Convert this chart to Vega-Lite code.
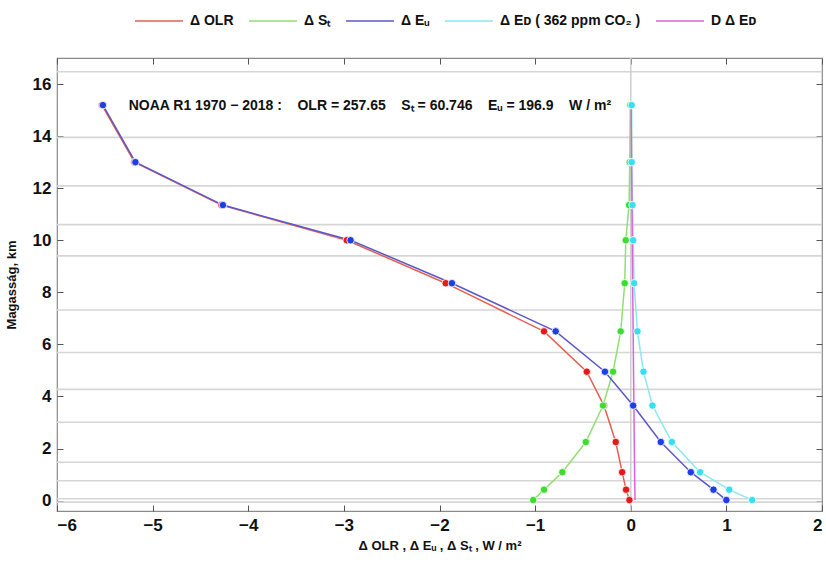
{
  "$schema": "https://vega.github.io/schema/vega-lite/v6.json",
  "width": 765,
  "height": 453,
  "autosize": {"type": "none"},
  "padding": {"left": 57, "top": 58, "right": 4, "bottom": 54},
  "config": {
    "view": {"stroke": "#8a8a8a", "strokeWidth": 1.2},
    "font": "Liberation Sans",
    "axis": {"domain": false, "grid": false, "tickColor": "#555555", "tickWidth": 1, "labelColor": "#111111", "titleColor": "#111111", "labelFontWeight": "bold", "titleFontWeight": "bold", "labelFont": "Liberation Sans", "titleFont": "Liberation Sans"}
  },
  "datasets": {
    "grid": [
      {"g": 16.47}, {"g": 13.95}, {"g": 12.09}, {"g": 10.6}, {"g": 9.4}, {"g": 7.32},
      {"g": 5.69}, {"g": 4.27}, {"g": 3.01}, {"g": 1.47}, {"g": 0.76}, {"g": 0.07}, {"g": -0.06}
    ],
    "zero": [{"z": 0}],
    "note": [{"x": -5.25, "y": 15.15, "t": "NOAA R1 1970 − 2018 :\u00a0\u00a0\u00a0 OLR = 257.65\u00a0\u00a0\u00a0 Sₜ = 60.746\u00a0\u00a0\u00a0 Eᵤ = 196.9\u00a0\u00a0\u00a0 W / m²"}],
    "pts": [
      {"s": "Δ OLR", "h": 15.19, "v": -5.53},
      {"s": "Δ OLR", "h": 13.0, "v": -5.19},
      {"s": "Δ OLR", "h": 11.35, "v": -4.28},
      {"s": "Δ OLR", "h": 10.0, "v": -2.97},
      {"s": "Δ OLR", "h": 8.35, "v": -1.935},
      {"s": "Δ OLR", "h": 6.5, "v": -0.907},
      {"s": "Δ OLR", "h": 4.95, "v": -0.46},
      {"s": "Δ OLR", "h": 3.65, "v": -0.28},
      {"s": "Δ OLR", "h": 2.25, "v": -0.157},
      {"s": "Δ OLR", "h": 1.09, "v": -0.09},
      {"s": "Δ OLR", "h": 0.42, "v": -0.049},
      {"s": "Δ OLR", "h": 0.02, "v": -0.014},
      {"s": "Δ Sₜ", "h": 15.19, "v": -0.005},
      {"s": "Δ Sₜ", "h": 13.0, "v": -0.01},
      {"s": "Δ Sₜ", "h": 11.35, "v": -0.018},
      {"s": "Δ Sₜ", "h": 10.0, "v": -0.052},
      {"s": "Δ Sₜ", "h": 8.35, "v": -0.063},
      {"s": "Δ Sₜ", "h": 6.5, "v": -0.105},
      {"s": "Δ Sₜ", "h": 4.95, "v": -0.185},
      {"s": "Δ Sₜ", "h": 3.65, "v": -0.29},
      {"s": "Δ Sₜ", "h": 2.25, "v": -0.47},
      {"s": "Δ Sₜ", "h": 1.09, "v": -0.715},
      {"s": "Δ Sₜ", "h": 0.42, "v": -0.907},
      {"s": "Δ Sₜ", "h": 0.02, "v": -1.02},
      {"s": "Δ Eᵤ", "h": 15.19, "v": -5.52},
      {"s": "Δ Eᵤ", "h": 13.0, "v": -5.18},
      {"s": "Δ Eᵤ", "h": 11.35, "v": -4.265},
      {"s": "Δ Eᵤ", "h": 10.0, "v": -2.93},
      {"s": "Δ Eᵤ", "h": 8.35, "v": -1.87},
      {"s": "Δ Eᵤ", "h": 6.5, "v": -0.785},
      {"s": "Δ Eᵤ", "h": 4.95, "v": -0.27},
      {"s": "Δ Eᵤ", "h": 3.65, "v": 0.025},
      {"s": "Δ Eᵤ", "h": 2.25, "v": 0.314},
      {"s": "Δ Eᵤ", "h": 1.09, "v": 0.628},
      {"s": "Δ Eᵤ", "h": 0.42, "v": 0.865},
      {"s": "Δ Eᵤ", "h": 0.02, "v": 1.0},
      {"s": "Δ Eᴅ ( 362 ppm CO₂ )", "h": 15.19, "v": 0.01},
      {"s": "Δ Eᴅ ( 362 ppm CO₂ )", "h": 13.0, "v": 0.01},
      {"s": "Δ Eᴅ ( 362 ppm CO₂ )", "h": 11.35, "v": 0.018},
      {"s": "Δ Eᴅ ( 362 ppm CO₂ )", "h": 10.0, "v": 0.025},
      {"s": "Δ Eᴅ ( 362 ppm CO₂ )", "h": 8.35, "v": 0.035},
      {"s": "Δ Eᴅ ( 362 ppm CO₂ )", "h": 6.5, "v": 0.07},
      {"s": "Δ Eᴅ ( 362 ppm CO₂ )", "h": 4.95, "v": 0.133},
      {"s": "Δ Eᴅ ( 362 ppm CO₂ )", "h": 3.65, "v": 0.227},
      {"s": "Δ Eᴅ ( 362 ppm CO₂ )", "h": 2.25, "v": 0.43},
      {"s": "Δ Eᴅ ( 362 ppm CO₂ )", "h": 1.09, "v": 0.725},
      {"s": "Δ Eᴅ ( 362 ppm CO₂ )", "h": 0.42, "v": 1.03},
      {"s": "Δ Eᴅ ( 362 ppm CO₂ )", "h": 0.02, "v": 1.27},
      {"s": "D Δ Eᴅ", "h": 15.19, "v": 0.004},
      {"s": "D Δ Eᴅ", "h": 13.0, "v": 0.009},
      {"s": "D Δ Eᴅ", "h": 11.35, "v": 0.013},
      {"s": "D Δ Eᴅ", "h": 10.0, "v": 0.016},
      {"s": "D Δ Eᴅ", "h": 8.35, "v": 0.02},
      {"s": "D Δ Eᴅ", "h": 6.5, "v": 0.025},
      {"s": "D Δ Eᴅ", "h": 4.95, "v": 0.029},
      {"s": "D Δ Eᴅ", "h": 3.65, "v": 0.033},
      {"s": "D Δ Eᴅ", "h": 2.25, "v": 0.037},
      {"s": "D Δ Eᴅ", "h": 1.09, "v": 0.04},
      {"s": "D Δ Eᴅ", "h": 0.42, "v": 0.043},
      {"s": "D Δ Eᴅ", "h": 0.02, "v": 0.045}
    ]
  },
  "resolve": {"axis": {"x": "independent", "y": "independent"}},
  "layer": [
    {
      "data": {"name": "grid"},
      "mark": {"type": "rule", "color": "#d6d6d6", "strokeWidth": 1.6},
      "encoding": {
        "y": {
          "field": "g", "type": "quantitative",
          "scale": {"domain": [-0.4, 17], "nice": false, "zero": false},
          "axis": {"orient": "left", "values": [0, 2, 4, 6, 8, 10, 12, 14, 16], "title": "Magasság, km", "titleFontSize": 13, "titlePadding": 14, "labelFontSize": 17, "tickSize": -6, "labelPadding": 12}
        }
      }
    },
    {
      "data": {"name": "zero"},
      "mark": {"type": "rule", "color": "#cfcfcf", "strokeWidth": 1.6},
      "encoding": {
        "x": {
          "field": "z", "type": "quantitative",
          "scale": {"domain": [-6, 2], "nice": false, "zero": false},
          "axis": {"orient": "bottom", "values": [-6, -5, -4, -3, -2, -1, 0, 1, 2], "title": "Δ OLR , Δ Eᵤ , Δ Sₜ , W / m²", "titleFontSize": 13, "titlePadding": 6, "labelFontSize": 17, "tickSize": -6, "labelPadding": 12}
        }
      }
    },
    {
      "data": {"name": "pts"},
      "mark": {"type": "line", "strokeWidth": 1.5},
      "encoding": {
        "x": {"field": "v", "type": "quantitative", "scale": {"domain": [-6, 2], "nice": false, "zero": false}, "axis": null},
        "y": {"field": "h", "type": "quantitative", "scale": {"domain": [-0.4, 17], "nice": false, "zero": false}, "axis": null},
        "order": {"field": "h", "type": "quantitative"},
        "stroke": {
          "field": "s", "type": "nominal",
          "scale": {
            "domain": ["Δ OLR", "Δ Sₜ", "Δ Eᵤ", "Δ Eᴅ ( 362 ppm CO₂ )", "D Δ Eᴅ"],
            "range": ["#e5604f", "#90e070", "#5b57c9", "#8ae8ee", "#dd62dd"]
          },
          "legend": {
            "orient": "none", "legendX": 77, "legendY": -62, "direction": "horizontal",
            "title": null, "symbolType": "stroke", "symbolSize": 2304, "symbolStrokeWidth": 1.5,
            "labelFontSize": 14, "labelFontWeight": "bold", "labelColor": "#111111", "labelFont": "Liberation Sans",
            "labelOffset": 6, "columnPadding": 12, "labelLimit": 300
          }
        }
      }
    },
    {
      "data": {"name": "pts"},
      "transform": [{"filter": "datum.s !== 'D Δ Eᴅ'"}],
      "mark": {"type": "point", "filled": true, "size": 56, "stroke": "white", "strokeWidth": 0.8, "opacity": 1},
      "encoding": {
        "x": {"field": "v", "type": "quantitative", "scale": {"domain": [-6, 2], "nice": false, "zero": false},
          "axis": {"orient": "top", "values": [-6, -5, -4, -3, -2, -1, 0, 1, 2], "labels": false, "title": null, "tickSize": -6}},
        "y": {"field": "h", "type": "quantitative", "scale": {"domain": [-0.4, 17], "nice": false, "zero": false},
          "axis": {"orient": "right", "values": [0, 2, 4, 6, 8, 10, 12, 14, 16], "labels": false, "title": null, "tickSize": -6}},
        "fill": {
          "field": "s", "type": "nominal",
          "scale": {
            "domain": ["Δ OLR", "Δ Sₜ", "Δ Eᵤ", "Δ Eᴅ ( 362 ppm CO₂ )"],
            "range": ["#e3191c", "#3ddc2e", "#1f3de6", "#38dff0"]
          },
          "legend": null
        }
      }
    },
    {
      "data": {"name": "note"},
      "mark": {"type": "text", "align": "left", "baseline": "middle", "fontSize": 14, "fontWeight": "bold", "color": "#111111", "font": "Liberation Sans"},
      "encoding": {
        "x": {"field": "x", "type": "quantitative", "scale": {"domain": [-6, 2], "nice": false, "zero": false}, "axis": null},
        "y": {"field": "y", "type": "quantitative", "scale": {"domain": [-0.4, 17], "nice": false, "zero": false}, "axis": null},
        "text": {"field": "t"}
      }
    }
  ]
}
